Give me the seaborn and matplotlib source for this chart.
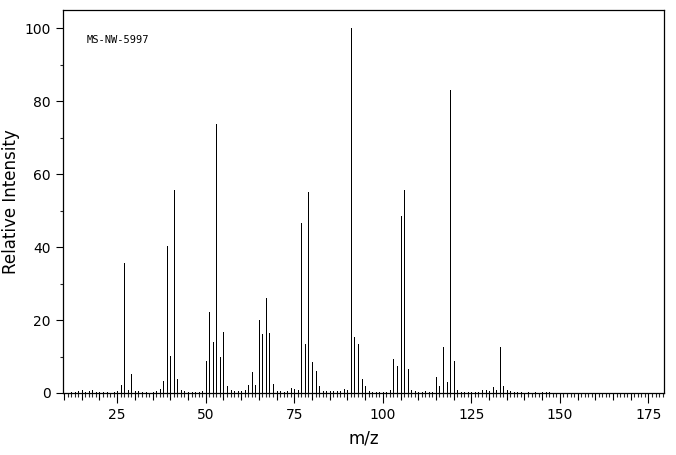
import numpy as np
import pandas as pd
import matplotlib
matplotlib.use("Agg")
import matplotlib.pyplot as plt
import seaborn as sns

# ---- data ----
mz = [12, 13, 14, 15, 16, 17, 18, 19, 20, 21, 22, 24, 25, 26, 27, 28, 29, 30, 31, 32,
      33, 35, 36, 37, 38, 39, 40, 41, 42, 43, 44, 45, 46, 47, 48, 49, 50, 51, 52, 53,
      54, 55, 56, 57, 58, 59, 60, 61, 62, 63, 64, 65, 66, 67, 68, 69, 70, 71, 72, 73,
      74, 75, 76, 77, 78, 79, 80, 81, 82, 83, 84, 85, 86, 87, 88, 89, 90, 91, 92, 93,
      94, 95, 96, 97, 98, 99, 100, 101, 102, 103, 104, 105, 106, 107, 108, 109, 110,
      111, 112, 113, 114, 115, 116, 117, 118, 119, 120, 121, 122, 123, 124, 125, 126,
      127, 128, 129, 130, 131, 132, 133, 134, 135, 136, 137, 138, 139, 141, 143, 145,
      146, 147]
intensity = [0.3, 0.4, 0.6, 0.7, 0.4, 0.5, 0.9, 0.3, 0.3, 0.3, 0.3, 0.3, 0.5, 2.3, 35.5,
             0.8, 5.3, 0.5, 0.5, 0.3, 0.3, 0.4, 0.5, 1.0, 3.4, 40.3, 10.2, 55.6, 3.9, 0.9,
             0.6, 0.4, 0.4, 0.3, 0.3, 0.6, 8.9, 22.1, 14.1, 73.6, 10.0, 16.8, 2.0, 0.7,
             0.5, 0.5, 0.5, 0.9, 2.3, 5.7, 2.3, 19.9, 16.1, 26.0, 16.5, 2.6, 0.5, 0.5,
             0.4, 0.5, 1.5, 1.2, 0.9, 46.7, 13.3, 55.1, 8.4, 5.9, 2.0, 0.5, 0.6, 0.5,
             0.5, 0.5, 0.5, 1.2, 0.7, 100.0, 15.3, 13.4, 3.7, 2.0, 0.5, 0.4, 0.4, 0.4,
             0.3, 0.4, 0.8, 9.4, 7.5, 48.5, 55.6, 6.7, 0.9, 0.5, 0.4, 0.4, 0.5, 0.4,
             0.4, 4.5, 2.0, 12.7, 3.1, 83.0, 8.9, 0.9, 0.4, 0.4, 0.3, 0.3, 0.4, 0.4,
             0.7, 0.7, 0.5, 1.7, 0.8, 12.7, 2.0, 0.7, 0.5, 0.4, 0.3, 0.3, 0.3, 0.3,
             0.4, 0.3, 0.3]
x_ticks = [25, 50, 75, 100, 125, 150, 175]
y_ticks = [0, 20, 40, 60, 80, 100]
label_text = "MS-NW-5997"

# long-form frame: each peak is a stick from 0 to its intensity
df = pd.DataFrame({
    "mz": np.repeat(mz, 2),
    "intensity": np.ravel(np.column_stack([np.zeros(len(intensity)), intensity])),
    "peak": np.repeat(np.arange(len(mz)), 2),
})

sns.set_style("ticks")
plt.rcParams["font.family"] = ["DejaVu Sans"]
plt.rcParams["text.color"] = "black"
plt.rcParams["axes.labelcolor"] = "black"

fig = plt.figure(figsize=(6.76, 4.55), dpi=100)
ax = fig.add_axes([63 / 676, 1 - 393 / 455, (664 - 63) / 676, (393 - 9.5) / 455])

sns.lineplot(data=df, x="mz", y="intensity", units="peak", estimator=None,
             color="black", ax=ax, sort=False, legend=False)
for ln in ax.lines:
    ln.set_linewidth(0.72)
    ln.set_solid_capstyle("butt")
    ln.set_antialiased(False)

ax.set_xlim(9.7, 179.4)
ax.set_ylim(0, 105.1)

# x ticks: integer minor, every 5 medium, every 25 long + labels
five = list(range(10, 180, 5))
ax.set_xticks(five)
ax.set_xticklabels([str(v) if v in x_ticks else "" for v in five])
ax.set_xticks(list(range(10, 180)), minor=True)
ax.tick_params(axis="x", which="major", length=5.0, width=0.8, pad=5.5,
               labelsize=10, colors="black", direction="out")
ax.tick_params(axis="x", which="minor", length=3.0, width=0.8, direction="out")
for v, t in zip(five, ax.xaxis.get_major_ticks()):
    if v in x_ticks:
        t.tick1line.set_markersize(7.2)

ax.set_yticks(y_ticks)
ax.set_yticks([10, 30, 50, 70, 90], minor=True)
ax.tick_params(axis="y", which="major", length=5.0, width=0.8, pad=4,
               labelsize=10, colors="black", direction="out")
ax.tick_params(axis="y", which="minor", length=2.2, width=0.8, direction="out")

for s in ax.spines.values():
    s.set_visible(True)
    s.set_color("black")
    s.set_linewidth(0.9)

ax.set_xlabel("m/z", fontsize=12, labelpad=6, color="black")
ax.set_ylabel("Relative Intensity", fontsize=12, labelpad=3, color="black")

ax.text(0.04, 0.92, label_text, transform=ax.transAxes, fontsize=7.5,
        family="DejaVu Sans Mono", va="center", ha="left", color="black")

fig.savefig("out.png", dpi=100, facecolor="white")
